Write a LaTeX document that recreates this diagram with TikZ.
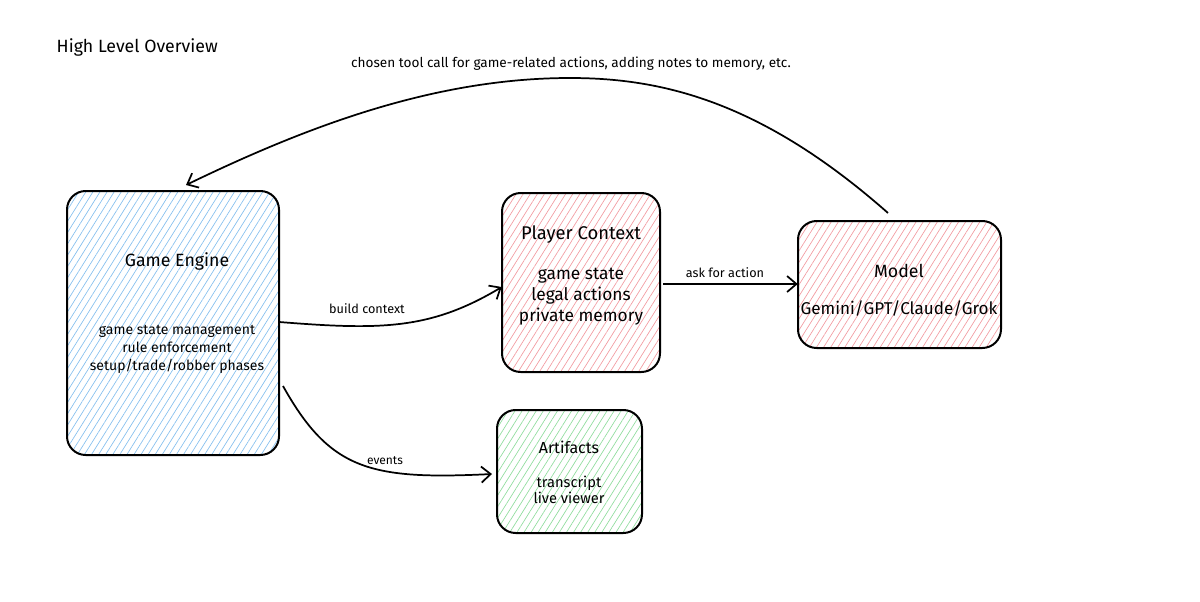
\documentclass[tikz,border=0pt]{standalone}
\usepackage{fontspec}
\setmainfont{Fira Sans}
\usetikzlibrary{arrows.meta,patterns.meta}
\definecolor{hblue}{HTML}{84BFEE}
\definecolor{hred}{HTML}{F29AA0}
\definecolor{hgreen}{HTML}{8FDC9D}
\begin{document}
\begin{tikzpicture}[x=0.75pt,y=-0.75pt,
  box/.style={draw=black,line width=1.5pt,rounded corners=14pt},
  hatch/.style={pattern={Lines[angle=58,distance=4.5pt,line width=0.5pt]},pattern color=#1},
  title/.style={font=\fontsize{13.3}{16}\selectfont},
  body/.style={font=\fontsize{10.5}{13.5}\selectfont,align=center},
  lbl/.style={font=\fontsize{9.5}{11}\selectfont},
  conn/.style={line width=1.3pt,-{Straight Barb[length=7pt,width=12pt,line width=1.3pt]}}]
\useasboundingbox (0,0) rectangle (1200,601);
% boxes
\draw[box,hatch=hblue] (67,191) rectangle (279,455);
\draw[box,hatch=hred] (502,193) rectangle (660,372);
\draw[box,hatch=hred] (798,221) rectangle (1001,348);
\draw[box,hatch=hgreen] (497,410) rectangle (642,533);
\node[inner sep=0,minimum width=212*0.75pt,minimum height=264*0.75pt] (ge) at (173,323) {};
\node[inner sep=0,minimum width=158*0.75pt,minimum height=179*0.75pt] (pc) at (581,282.5) {};
\node[inner sep=0,minimum width=203*0.75pt,minimum height=127*0.75pt] (md) at (899.5,284.5) {};
\node[inner sep=0,minimum width=145*0.75pt,minimum height=123*0.75pt] (af) at (569.5,471.5) {};
% texts
\node[anchor=west,title] (hlo) at (52,47) {High Level Overview};
\node[title] (get) at (177,261) {Game Engine};
\node[body] (geb) at (177,349) {game state management\\rule enforcement\\setup/trade/robber phases};
\node[title,font=\fontsize{13.8}{16}\selectfont] (pct) at (581,235) {Player Context};
\node[body,font=\fontsize{13}{15.8}\selectfont] (pcb) at (581,297) {game state\\legal actions\\private memory};
\node[title] (mdt) at (899,271) {Model};
\node[body,font=\fontsize{12.8}{14}\selectfont] (mdb) at (899,308) {Gemini/GPT/Claude/Grok};
\node[title,font=\fontsize{12}{14}\selectfont] (aft) at (569,447) {Artifacts};
\node[body,font=\fontsize{11}{12.5}\selectfont] (afb) at (569,490) {transcript\\live viewer};
% connectors
\coordinate (bc1) at (ge.east |- 0,322);
\coordinate (bc2) at (pc.west |- 0,287);
\draw[conn] (bc1) .. controls (380,330) and (430,330) .. (bc2);
\node[lbl] (bcl) at (367,309) {build context};
\coordinate (aa1) at (663,284);
\coordinate (aa2) at (md.west |- 0,284);
\draw[conn] (aa1) -- (aa2);
\node[lbl] (aal) at (725,273) {ask for action};
\coordinate (ev1) at (283,386);
\coordinate (ev2) at (492,474);
\draw[conn] (ev1) .. controls (330,470) and (370,480) .. (ev2);
\node[lbl,font=\fontsize{9}{11}\selectfont] (evl) at (385,461) {events};
\coordinate (tc1) at (888,213);
\coordinate (tc2) at (186,185);
\draw[conn] (tc1) .. controls (760,100) and (660,78) .. (570,78) .. controls (430,78) and (300,130) .. (tc2);
\node[lbl,font=\fontsize{10.2}{12}\selectfont] (tcl) at (571,64) {chosen tool call for game-related actions, adding notes to memory, etc.};
\end{tikzpicture}
\end{document}
